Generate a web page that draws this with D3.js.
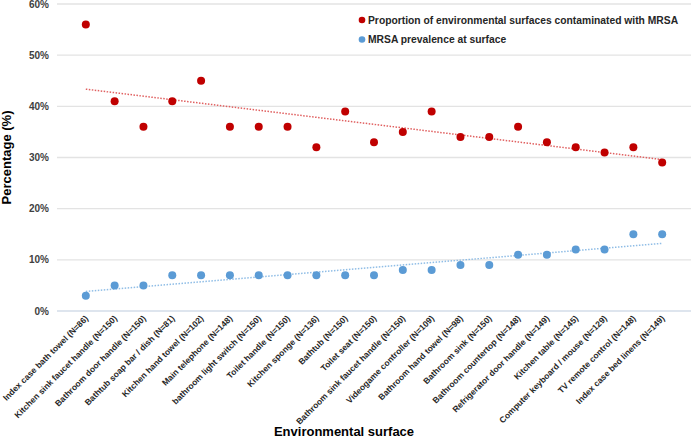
<!DOCTYPE html>
<html lang="en">
<head>
<meta charset="UTF-8">
<script src="https://d3js.org/d3.v7.min.js"></script>
<style>
  body { margin: 0; background: #fff; }
  svg { font-family: "Liberation Sans", Arial, sans-serif; }
</style>
</head>
<body>
<div id="chart"></div>
<script>
// surfaces sampled, in the order shown on the x axis
const surfaces = [
  "Index case bath towel (N=86)",
  "Kitchen sink faucet handle (N=150)",
  "Bathroom door handle (N=150)",
  "Bathtub soap bar / dish (N=81)",
  "Kitchen hand towel (N=102)",
  "Main telephone (N=148)",
  "bathroom light switch (N=150)",
  "Toilet handle (N=150)",
  "Kitchen sponge (N=136)",
  "Bathtub (N=150)",
  "Toilet seat (N=150)",
  "Bathroom sink faucet handle (N=150)",
  "Videogame controller (N=109)",
  "Bathroom hand towel (N=98)",
  "Bathroom sink (N=150)",
  "Bathroom countertop (N=148)",
  "Refrigerator door handle (N=149)",
  "Kitchen table (N=145)",
  "Computer keyboard / mouse (N=129)",
  "TV remote control (N=148)",
  "Index case bed linens (N=149)"
];
// proportion of surfaces contaminated (%)
const contaminated = [56, 41, 36, 41, 45, 36, 36, 36, 32, 39, 33, 35, 39, 34, 34, 36, 33, 32, 31, 32, 29];
// MRSA prevalence at surface (%)
const prevalence = [3, 5, 5, 7, 7, 7, 7, 7, 7, 7, 7, 8, 8, 9, 9, 11, 11, 12, 12, 15, 15];
const yTicks = [0, 10, 20, 30, 40, 50, 60];

const width = 693, height = 439;
const margin = { top: 4, right: 2, bottom: 128, left: 57 };

const svg = d3.select("#chart").append("svg")
  .attr("width", width)
  .attr("height", height);

const x = d3.scalePoint()
  .domain(surfaces)
  .range([margin.left, width - margin.right])
  .padding(1);

const y = d3.scaleLinear()
  .domain([0, 60])
  .range([height - margin.bottom, margin.top]);

// gridlines
svg.append("g")
  .selectAll("line")
  .data(yTicks)
  .join("line")
  .attr("x1", margin.left)
  .attr("x2", width - margin.right)
  .attr("y1", d => y(d))
  .attr("y2", d => y(d))
  .attr("stroke", d => d === 0 ? "#d3dce8" : "#e3e3e3")
  .attr("stroke-width", 1.3);

// y tick labels
svg.append("g")
  .selectAll("text")
  .data(yTicks)
  .join("text")
  .attr("x", 49)
  .attr("y", d => y(d))
  .attr("dy", "0.35em")
  .attr("text-anchor", "end")
  .attr("font-size", 10)
  .attr("font-weight", "bold")
  .attr("fill", "#404040")
  .text(d => d + "%");

// x tick labels, rotated
svg.append("g")
  .selectAll("text")
  .data(surfaces)
  .join("text")
  .attr("transform", d => `translate(${x(d) + 3},${y(0) + 8}) rotate(-45)`)
  .attr("text-anchor", "end")
  .attr("font-size", 8.5)
  .attr("font-weight", "bold")
  .attr("fill", "#262626")
  .text(d => d);

// axis titles
svg.append("text")
  .attr("transform", `translate(11,${(y(0) + y(60)) / 2}) rotate(-90)`)
  .attr("text-anchor", "middle")
  .attr("font-size", 13)
  .attr("font-weight", "bold")
  .text("Percentage (%)");

svg.append("text")
  .attr("x", 344)
  .attr("y", 436)
  .attr("text-anchor", "middle")
  .attr("font-size", 13)
  .attr("font-weight", "bold")
  .text("Environmental surface");

// least squares trend line over category index
const trend = vals => {
  const n = vals.length;
  const mx = d3.mean(vals, (v, i) => i);
  const my = d3.mean(vals);
  const sxy = d3.sum(vals, (v, i) => (i - mx) * (v - my));
  const sxx = d3.sum(vals, (v, i) => (i - mx) * (i - mx));
  const b = sxy / sxx;
  return [0, n - 1].map(i => [i, my + b * (i - mx)]);
};

const series = [
  { name: "Proportion of environmental surfaces contaminated with MRSA", values: contaminated, color: "#c00000", line: "#e06060" },
  { name: "MRSA prevalence at surface", values: prevalence, color: "#5b9bd5", line: "#8fbde6" }
];

series.forEach(s => {
  const t = trend(s.values);
  svg.append("line")
    .attr("x1", x(surfaces[t[0][0]]))
    .attr("y1", y(t[0][1]))
    .attr("x2", x(surfaces[t[1][0]]))
    .attr("y2", y(t[1][1]))
    .attr("stroke", s.line)
    .attr("stroke-width", 1.5)
    .attr("stroke-dasharray", "1.5,1.5");

  svg.append("g")
    .selectAll("circle")
    .data(s.values)
    .join("circle")
    .attr("cx", (d, i) => x(surfaces[i]))
    .attr("cy", d => y(d))
    .attr("r", 4)
    .attr("fill", s.color);
});

// legend
const legend = svg.append("g")
  .selectAll("g")
  .data(series)
  .join("g")
  .attr("transform", (d, i) => `translate(362,${20 + i * 19.5})`);

legend.append("circle")
  .attr("r", 3.3)
  .attr("fill", d => d.color);

legend.append("text")
  .attr("x", 6)
  .attr("dy", "0.35em")
  .attr("font-size", 10.3)
  .attr("font-weight", "bold")
  .attr("fill", "#262626")
  .text(d => d.name);
</script>
</body>
</html>
